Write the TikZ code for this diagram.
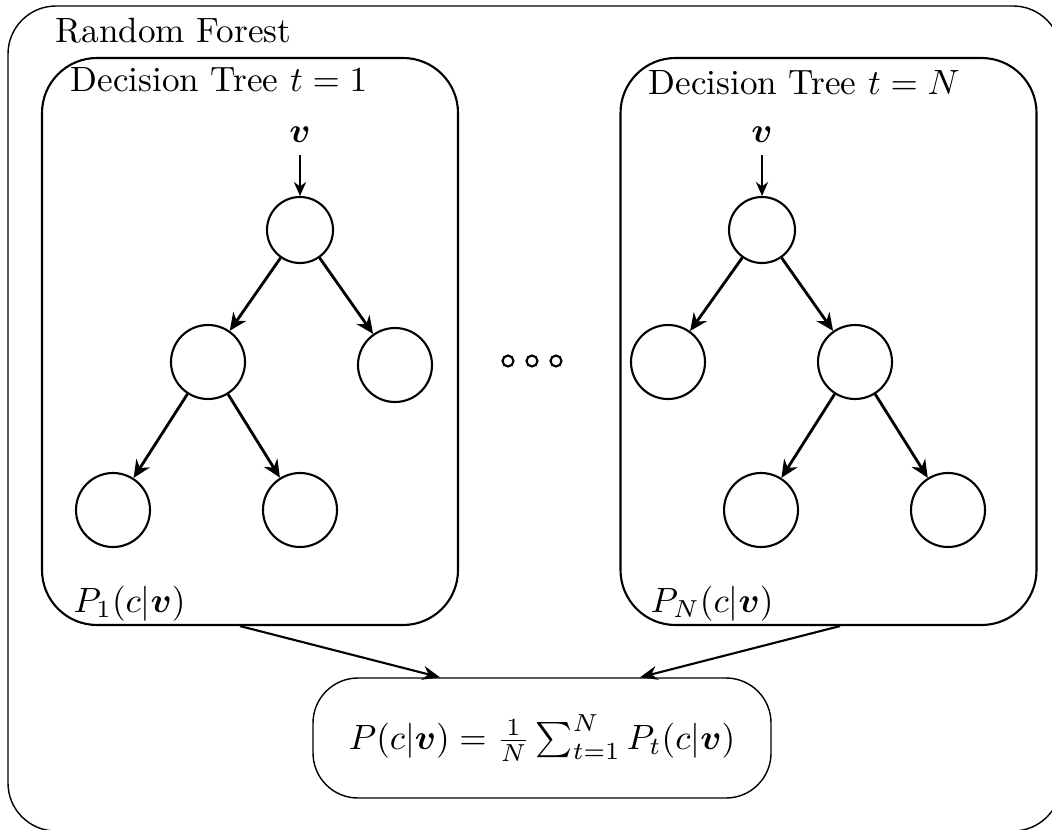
\documentclass[tikz,border=0pt]{standalone}
\usepackage{amsmath,bm}
\usetikzlibrary{arrows.meta}

\begin{document}
\begin{tikzpicture}[
  treebox/.style={draw, semithick, rounded corners=0.55cm, minimum width=4.16cm, minimum height=5.67cm},
  rootnode/.style={draw, semithick, circle, minimum size=0.66cm},
  subnode/.style={draw, semithick, circle, minimum size=0.74cm},
  edge/.style={thick, -{Stealth[length=5pt,width=4.5pt]}},
  vin/.style={-{Stealth[length=4pt,width=3.5pt]}},
  feed/.style={semithick, -{Stealth[length=5pt,width=4pt]}},
  lbl/.style={anchor=base west, inner sep=0pt}]
\useasboundingbox (0,0) rectangle (10.52,-8.29);
% forest frame
\draw[rounded corners=0.48cm] (0.08,-0.06) rectangle (10.61,-8.31);
\node[lbl] (rf) at (0.55,-0.43) {Random Forest};

% tree t = 1
\node[treebox] (tree1) at (2.50,-3.415) {};
\node[lbl] (t1) at (0.70,-0.92) {Decision Tree $t=1$};
\node (v1) at (3.00,-1.35) {$\boldsymbol{v}$};
\node[rootnode] (r1) at (3.00,-2.30) {};
\node[subnode] (a1) at (2.08,-3.62) {};
\node[subnode] (b1) at (3.95,-3.65) {};
\node[subnode] (c1) at (1.13,-5.10) {};
\node[subnode] (d1) at (3.00,-5.10) {};
\node[lbl] (p1) at (0.73,-6.12) {$P_1(c|\boldsymbol{v})$};
\draw[vin] (v1) -- (r1);
\draw[edge] (r1) -- (a1);
\draw[edge] (r1) -- (b1);
\draw[edge] (a1) -- (c1);
\draw[edge] (a1) -- (d1);

% dots between the trees
\foreach \x in {5.08,5.32,5.56}
  \draw[semithick] (\x,-3.61) circle (0.055);

% tree t = N
\node[treebox] (treeN) at (8.285,-3.415) {};
\node[lbl] (tN) at (6.48,-0.95) {Decision Tree $t=N$};
\node (vN) at (7.62,-1.35) {$\boldsymbol{v}$};
\node[rootnode] (rN) at (7.62,-2.30) {};
\node[subnode] (aN) at (6.68,-3.62) {};
\node[subnode] (bN) at (8.55,-3.62) {};
\node[subnode] (cN) at (7.61,-5.10) {};
\node[subnode] (dN) at (9.48,-5.10) {};
\node[lbl] (pN) at (6.50,-6.12) {$P_N(c|\boldsymbol{v})$};
\draw[vin] (vN) -- (rN);
\draw[edge] (rN) -- (aN);
\draw[edge] (rN) -- (bN);
\draw[edge] (bN) -- (cN);
\draw[edge] (bN) -- (dN);

% averaging
\node[draw, rounded corners=0.45cm, minimum width=4.58cm, minimum height=1.20cm] (avg) at (5.42,-7.38)
  {$P(c|\boldsymbol{v}) = \frac{1}{N}\sum_{t=1}^{N} P_t(c|\boldsymbol{v})$};
\draw[feed] ([xshift=-0.10cm]tree1.south) -- ([xshift=-1.02cm]avg.north);
\draw[feed] ([xshift=0.115cm]treeN.south) -- ([xshift=0.98cm]avg.north);
\end{tikzpicture}
\end{document}
